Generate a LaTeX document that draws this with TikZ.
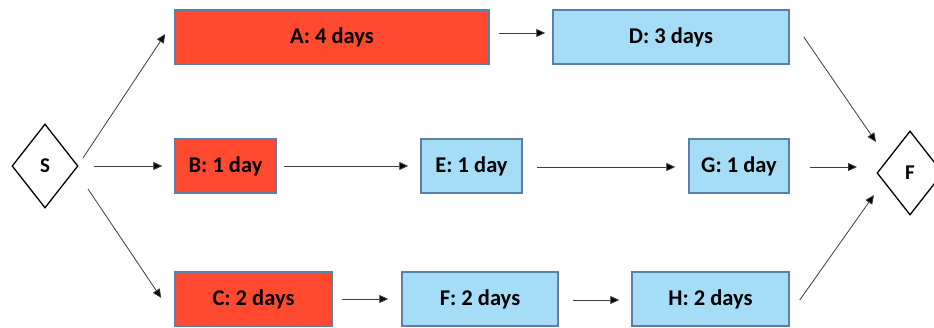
\documentclass[tikz,border=0pt]{standalone}
\usepackage{fontspec}
\setmainfont{Carlito}
\usetikzlibrary{shapes.geometric,arrows.meta}
\definecolor{actred}{RGB}{255,74,47}
\definecolor{actblue}{RGB}{166,221,246}
\definecolor{actedge}{RGB}{91,127,168}
\definecolor{arrgray}{RGB}{60,60,60}
\tikzset{
  task/.style={draw=actedge, line width=1.5pt, minimum height=54pt, inner sep=0pt, font=\fontsize{22.5}{26}\selectfont\bfseries, text=black},
  crit/.style={task, fill=actred},
  norm/.style={task, fill=actblue},
  milestone/.style={draw=black, line width=1.3pt, shape=diamond, inner sep=0pt, minimum width=66pt, minimum height=84pt, font=\fontsize{21}{24}\selectfont\bfseries},
  arr/.style={draw=arrgray, line width=0.8pt, -{Triangle[length=9pt,width=8pt,fill=black]}}
}
\begin{document}
\begin{tikzpicture}[x=1pt,y=1pt]
\useasboundingbox (0,0) rectangle (934,327);
\clip (0,0) rectangle (934,327);
\node[milestone] (S) at (45,161) {S};
\node[milestone] (Fin) at (910,154) {F};
\node[crit, minimum width=314pt] (A) at (332,290) {A: 4 days};
\node[norm, minimum width=236pt] (D) at (671,290) {D: 3 days};
\node[crit, minimum width=101pt] (B) at (225.5,161) {B: 1 day};
\node[norm, minimum width=101pt] (E) at (471.5,161) {E: 1 day};
\node[norm, minimum width=100pt] (G) at (739,161) {G: 1 day};
\node[crit, minimum width=157pt] (C) at (253.5,28) {C: 2 days};
\node[norm, minimum width=156pt] (Fb) at (480,28) {F: 2 days};
\node[norm, minimum width=157pt] (H) at (710.5,28) {H: 2 days};
% connectors
\draw[arr] ([shift={(38,8)}]S.center) -- ([shift={(-9,3)}]A.west);
\draw[arr] ([shift={(49,0)}]S.center) -- ([shift={(-12,0)}]B.west);
\draw[arr] ([shift={(43,-23)}]S.center) -- ([shift={(-13,1)}]C.west);
\draw[arr] ([shift={(9,4)}]A.east) -- ([shift={(-7,4)}]D.west);
\draw[arr] ([shift={(7,0)}]B.east) -- ([shift={(-12,0)}]E.west);
\draw[arr] ([shift={(14,-1)}]E.east) -- ([shift={(-13,-1)}]G.west);
\draw[arr] ([shift={(20,-1)}]G.east) -- ([shift={(-53,6)}]Fin.center);
\draw[arr] ([shift={(14,0)}]D.east) -- ([shift={(-34,31)}]Fin.center);
\draw[arr] ([shift={(10,-1)}]H.east) -- ([shift={(-36,-22)}]Fin.center);
\draw[arr] ([shift={(9,0)}]C.east) -- ([shift={(-13,0)}]Fb.west);
\draw[arr] ([shift={(14,-1)}]Fb.east) -- ([shift={(-12,-1)}]H.west);
\end{tikzpicture}
\end{document}
